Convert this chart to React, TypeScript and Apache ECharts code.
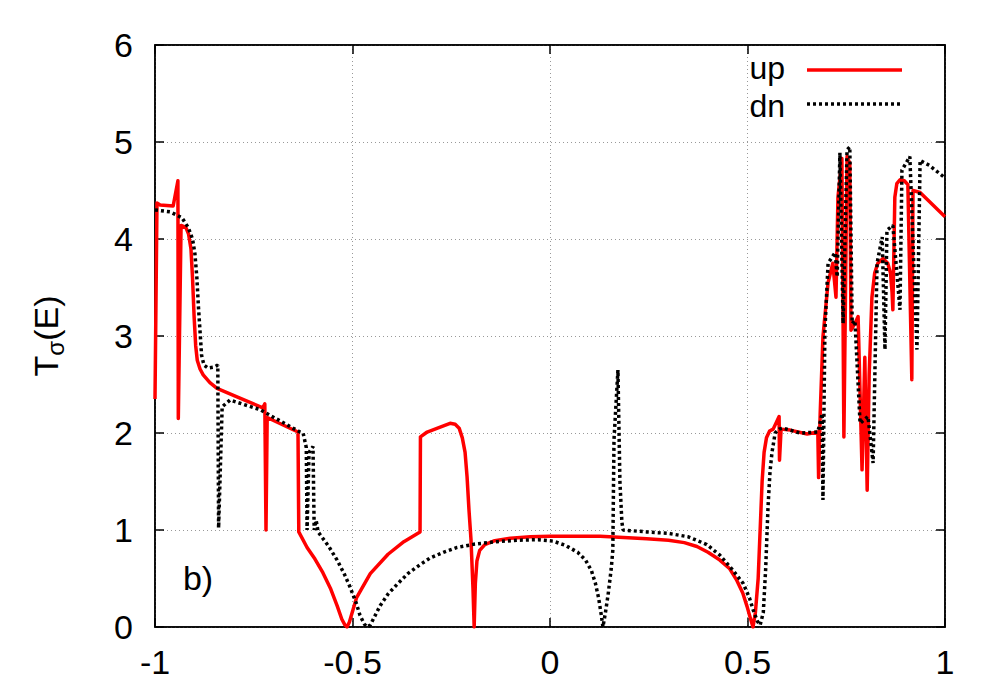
import React, { useEffect, useRef } from "react";
import * as echarts from "echarts";

const xTicks = [-1, -0.5, 0, 0.5, 1];
const yTicks = [0, 1, 2, 3, 4, 5, 6];

const upX = [
  -1.0, -0.995, -0.987, -0.954, -0.942, -0.941, -0.934, -0.922, -0.915, -0.909,
  -0.905, -0.901, -0.897, -0.893, -0.886, -0.878, -0.861, -0.843, -0.785, -0.727,
  -0.722, -0.719, -0.716, -0.638, -0.636, -0.615, -0.595, -0.575, -0.556, -0.539,
  -0.527, -0.519, -0.514, -0.508, -0.49, -0.455, -0.41, -0.37, -0.329, -0.328,
  -0.311, -0.278, -0.253, -0.24, -0.23, -0.222, -0.215, -0.21, -0.205, -0.2,
  -0.195, -0.192, -0.189, -0.185, -0.178, -0.165, -0.14, -0.1, -0.05, 0.0,
  0.127, 0.245, 0.3, 0.34, 0.372, 0.4, 0.43, 0.455, 0.473, 0.488,
  0.499, 0.508, 0.514, 0.52, 0.527, 0.532, 0.537, 0.542, 0.548, 0.556,
  0.565, 0.58, 0.581, 0.585, 0.608, 0.651, 0.678, 0.68, 0.684, 0.691,
  0.704, 0.716, 0.724, 0.729, 0.739, 0.744, 0.752, 0.759, 0.762, 0.772,
  0.78, 0.79, 0.797, 0.803, 0.808, 0.815, 0.822, 0.83, 0.843, 0.855,
  0.862, 0.866, 0.868, 0.873, 0.878, 0.886, 0.897, 0.906, 0.916, 0.919,
  0.937, 1.0,
];
const upY = [
  2.35, 4.37, 4.35, 4.34, 4.6, 2.15, 4.14, 4.12, 4.05, 3.9,
  3.6, 3.2, 2.9, 2.75, 2.66, 2.6, 2.52, 2.46, 2.36, 2.26,
  2.3, 1.0, 2.16, 2.01, 0.98, 0.82, 0.7, 0.56, 0.4, 0.22,
  0.08, 0.02, 0.0, 0.05, 0.3, 0.55, 0.75, 0.88, 0.98, 1.96,
  2.01, 2.06, 2.1, 2.09, 2.05, 1.95, 1.8, 1.55, 1.2, 0.9,
  0.4, 0.0, 0.45, 0.68, 0.79, 0.85, 0.89, 0.915, 0.93, 0.935,
  0.935, 0.91, 0.895, 0.87, 0.83, 0.77, 0.69, 0.6, 0.48, 0.35,
  0.21, 0.08, 0.0, 0.15, 0.5, 1.0, 1.5, 1.8, 1.95, 2.02,
  2.04, 2.17, 1.72, 2.04, 2.03, 1.99, 2.01, 1.54, 2.2, 2.99,
  3.55, 3.75, 3.4, 4.43, 4.83, 1.96, 4.85, 4.78, 3.06, 3.13,
  3.2, 1.62, 2.78, 1.41, 2.6, 3.4, 3.65, 3.75, 3.8, 3.75,
  3.65, 3.45, 3.27, 4.43, 4.57, 4.61, 4.6, 4.56, 2.55, 4.5,
  4.48, 4.23,
];

const dnX = [
  -1.0, -0.962, -0.932, -0.916, -0.905, -0.899, -0.894, -0.89, -0.886, -0.882,
  -0.876, -0.866, -0.85, -0.841, -0.839, -0.83, -0.81, -0.734, -0.633, -0.625,
  -0.617, -0.615, -0.61, -0.6, -0.597, -0.592, -0.587, -0.56, -0.539, -0.52,
  -0.506, -0.49, -0.481, -0.47, -0.463, -0.455, -0.445, -0.43, -0.41, -0.387,
  -0.36, -0.33, -0.304, -0.27, -0.235, -0.19, -0.134, -0.08, -0.03, 0.008,
  0.04, 0.07, 0.09, 0.105, 0.115, 0.123, 0.13, 0.134, 0.14, 0.147,
  0.155, 0.159, 0.162, 0.172, 0.177, 0.182, 0.185, 0.245, 0.3, 0.35,
  0.397, 0.43, 0.46, 0.489, 0.505, 0.514, 0.525, 0.532, 0.54, 0.546,
  0.552, 0.557, 0.562, 0.57, 0.58, 0.59, 0.633, 0.678, 0.689, 0.691,
  0.696, 0.704, 0.722, 0.727, 0.734, 0.742, 0.752, 0.759, 0.765, 0.772,
  0.785, 0.805, 0.818, 0.828, 0.841, 0.848, 0.853, 0.868, 0.886, 0.891,
  0.911, 0.929, 0.937, 0.96, 1.0,
];
const dnY = [
  4.3, 4.28, 4.22, 4.12, 4.0, 3.85, 3.6, 3.3, 3.05, 2.8,
  2.7, 2.67, 2.68, 2.7, 1.02, 2.27, 2.34, 2.24, 2.01, 2.0,
  1.85, 1.0, 1.8, 1.86, 1.0, 1.1, 0.98, 0.83, 0.69, 0.54,
  0.41, 0.24, 0.12, 0.03, 0.0, 0.02, 0.1, 0.22, 0.34, 0.44,
  0.55, 0.64, 0.71, 0.77, 0.82, 0.855, 0.88, 0.895, 0.9, 0.885,
  0.84, 0.77, 0.69, 0.58, 0.45, 0.3, 0.12, 0.0, 0.14, 0.33,
  0.6, 0.79, 1.93, 2.65, 1.5, 1.08, 1.0, 0.98, 0.965, 0.93,
  0.85, 0.74, 0.6, 0.45, 0.3, 0.18, 0.06, 0.02, 0.15, 0.6,
  1.24, 1.6, 1.8, 2.0, 2.04, 2.05, 2.0, 2.01, 2.2, 1.31,
  3.06, 3.75, 3.86, 3.61, 4.89, 3.13, 4.92, 4.95, 3.13, 3.16,
  2.1, 2.17, 1.69, 3.75, 4.02, 2.86, 4.09, 4.14, 3.27, 4.71,
  4.85, 2.86, 4.81, 4.76, 4.63,
];

const seriesNames = ["up", "dn"];
const panelLabel = "b)";

const FONT = "Liberation Sans, Arial, sans-serif";
const FS = 34;

export default function App() {
  const ref = useRef<HTMLDivElement>(null);
  useEffect(() => {
    if (!ref.current) return;
    const chart = echarts.init(ref.current, null, { renderer: "svg" });
    const upData = upX.map((x, i) => [x, upY[i]]);
    const dnData = dnX.map((x, i) => [x, dnY[i]]);
    const axisCommon = {
      type: "value" as const,
      axisLine: { show: true, onZero: false, lineStyle: { color: "#000", width: 1.5 } },
      axisTick: { show: true, inside: true, length: 9, lineStyle: { color: "#000", width: 1.5 } },
    };
    chart.setOption({
      animation: false,
      backgroundColor: "#fff",
      grid: {
        left: 155,
        right: 55,
        top: 45,
        bottom: 73,
        show: true,
        borderColor: "#000",
        borderWidth: 1.5,
      },
      xAxis: [
        {
          ...axisCommon,
          min: xTicks[0],
          max: xTicks[xTicks.length - 1],
          interval: 0.5,
          position: "bottom",
          axisLabel: { color: "#000", fontSize: FS, fontFamily: FONT, margin: 18 },
          splitLine: { show: true, lineStyle: { color: "#999", width: 1, type: [1, 3] } },
        },
        {
          ...axisCommon,
          min: xTicks[0],
          max: xTicks[xTicks.length - 1],
          interval: 0.5,
          position: "top",
          axisLabel: { show: false },
          splitLine: { show: false },
        },
      ],
      yAxis: [
        {
          ...axisCommon,
          min: yTicks[0],
          max: yTicks[yTicks.length - 1],
          interval: 1,
          position: "left",
          axisLabel: { color: "#000", fontSize: FS, fontFamily: FONT, margin: 22 },
          splitLine: { show: true, lineStyle: { color: "#999", width: 1, type: [1, 3] } },
        },
        {
          ...axisCommon,
          min: yTicks[0],
          max: yTicks[yTicks.length - 1],
          interval: 1,
          position: "right",
          axisLabel: { show: false },
          splitLine: { show: false },
        },
      ],
      series: [
        {
          name: seriesNames[0],
          type: "line",
          data: upData,
          showSymbol: false,
          symbol: "none",
          lineStyle: { color: "#ff0000", width: 3.5, join: "round" },
          z: 2,
        },
        {
          name: seriesNames[1],
          type: "line",
          data: dnData,
          showSymbol: false,
          symbol: "none",
          lineStyle: { color: "#000", width: 3.5, type: [3, 3] },
          z: 3,
        },
      ],
      graphic: [
        {
          type: "text",
          x: 46,
          y: 336,
          rotation: Math.PI / 2,
          style: {
            text: "{a|T}{b|σ}{a|(E)}",
            align: "center",
            verticalAlign: "middle",
            rich: {
              a: { fontSize: FS, fontFamily: FONT, fill: "#000" },
              b: { fontSize: 24, fontFamily: FONT, fill: "#000", padding: [18, 0, 0, 0] },
            },
          },
        },
        {
          type: "text",
          x: 785,
          y: 68,
          style: { text: seriesNames[0], fontSize: 32, lineHeight: 28, fontFamily: FONT, fill: "#000", align: "right", verticalAlign: "middle" },
        },
        {
          type: "line",
          shape: { x1: 807, y1: 70, x2: 902, y2: 70 },
          style: { stroke: "#ff0000", lineWidth: 3.5 },
        },
        {
          type: "text",
          x: 785,
          y: 106,
          style: { text: seriesNames[1], fontSize: 32, lineHeight: 28, fontFamily: FONT, fill: "#000", align: "right", verticalAlign: "middle" },
        },
        {
          type: "line",
          shape: { x1: 807, y1: 104, x2: 900, y2: 104 },
          style: { stroke: "#000", lineWidth: 3.5, lineDash: [3, 3] },
        },
        {
          type: "text",
          x: 198,
          y: 578,
          style: { text: panelLabel, fontSize: FS, fontFamily: FONT, fill: "#000", align: "center", verticalAlign: "middle" },
        },
      ],
    });
    return () => chart.dispose();
  }, []);
  return <div ref={ref} style={{ width: 1000, height: 700, position: "absolute", left: 0, top: 0 }} />;
}
